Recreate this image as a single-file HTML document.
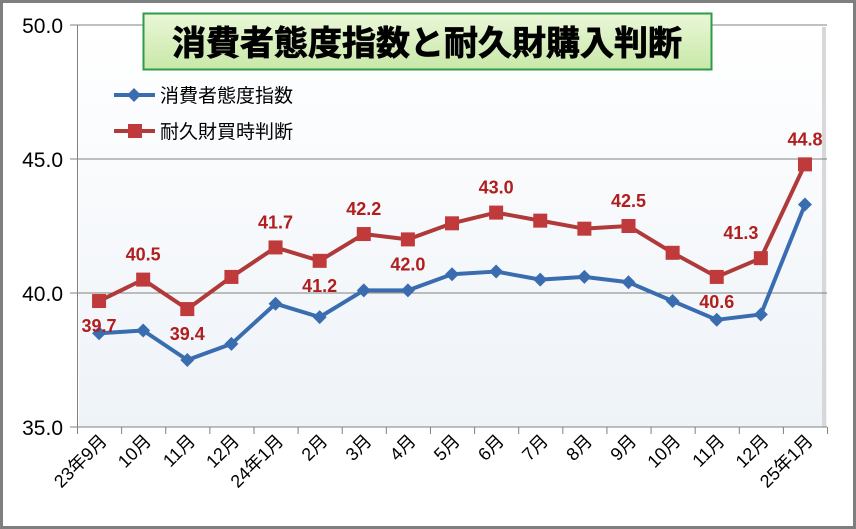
<!DOCTYPE html>
<html><head><meta charset="utf-8"><style>
body{margin:0;background:#fff}
svg{display:block;font-family:"Liberation Sans","Noto Sans CJK JP",sans-serif}
</style></head><body>
<svg width="856" height="529" viewBox="0 0 856 529" xmlns="http://www.w3.org/2000/svg">
<defs>
<linearGradient id="pa" x1="0" y1="0" x2="0" y2="1"><stop offset="0" stop-color="#ffffff"/><stop offset="1" stop-color="#eef3f8"/></linearGradient>
<linearGradient id="tb" x1="0" y1="0" x2="0" y2="1"><stop offset="0" stop-color="#eaf7d8"/><stop offset="1" stop-color="#c9e8a8"/></linearGradient>
</defs>
<rect x="1.5" y="1.5" width="853" height="526" fill="#fff" stroke="#7f7f7f" stroke-width="3"/>
<rect x="79" y="27" width="748" height="400" fill="url(#pa)"/>
<line x1="824" y1="27" x2="824" y2="427" stroke="#d8d8d8" stroke-width="4"/>
<g stroke="#808080" stroke-width="1">
<line x1="70" y1="25" x2="827" y2="25"/>
<line x1="70" y1="159" x2="827" y2="159"/>
<line x1="70" y1="293" x2="827" y2="293"/>
<line x1="70" y1="427" x2="827" y2="427"/>
<line x1="77.5" y1="25" x2="77.5" y2="427"/>
</g>
<g stroke="#808080" stroke-width="1" id="ticks"></g>
<g font-size="21" fill="#000" text-anchor="end">
<text x="63" y="33">50.0</text><text x="63" y="167">45.0</text><text x="63" y="301">40.0</text><text x="63" y="435">35.0</text>
</g>
<rect x="143.5" y="13.5" width="568" height="56" fill="url(#tb)" stroke="#2e9b4a" stroke-width="2"/>
<text x="427" y="55" text-anchor="middle" font-size="34" font-weight="bold" fill="#000" stroke="#000" stroke-width="0.8">消費者態度指数と耐久財購入判断</text>
<line x1="114" y1="95" x2="155" y2="95" stroke="#3a6db0" stroke-width="4"/>
<path d="M134 88 L141 95 L134 102 L127 95Z" fill="#3a6db0"/>
<text x="160" y="102" font-size="19" fill="#000">消費者態度指数</text>
<line x1="114" y1="131" x2="155" y2="131" stroke="#b03a3a" stroke-width="4"/>
<rect x="128" y="124" width="14" height="14" fill="#c0393b"/>
<text x="160" y="138" font-size="19" fill="#000">耐久財買時判断</text>
<g id="plot"></g>
</svg>
<script>
var ns="http://www.w3.org/2000/svg";
function el(t,a,p,txt){var e=document.createElementNS(ns,t);for(var k in a)e.setAttribute(k,a[k]);if(txt)e.textContent=txt;p.appendChild(e);return e;}
var b=[38.5,38.6,37.5,38.1,39.6,39.1,40.1,40.1,40.7,40.8,40.5,40.6,40.4,39.7,39.0,39.2,43.3];
var r=[39.7,40.5,39.4,40.6,41.7,41.2,42.2,42.0,42.6,43.0,42.7,42.4,42.5,41.5,40.6,41.3,44.8];
var labs=["23年9月","10月","11月","12月","24年1月","2月","3月","4月","5月","6月","7月","8月","9月","10月","11月","12月","25年1月"];
var lp={0:1,1:-1,2:1,4:-1,5:1,6:-1,7:1,9:-1,12:-1,14:1,15:-1,16:-1};
var dx={15:-20};
function X(i){return 77+44.12*(i+0.5);}function Y(v){return 293-(v-40)*26.8;}
var g=document.getElementById("plot"),tk=document.getElementById("ticks"),svg=document.querySelector("svg");
for(var i=0;i<=17;i++){var x=77.5+44.12*i;el("line",{x1:x,y1:427,x2:x,y2:434},tk);}
function line(d,c){var s="";d.forEach(function(v,i){s+=(i?"L":"M")+X(i)+" "+Y(v);});el("path",{d:s,fill:"none",stroke:c,"stroke-width":4,"stroke-linejoin":"round"},g);}
line(b,"#3a6db0");line(r,"#b03a3a");
b.forEach(function(v,i){var x=X(i),y=Y(v);el("path",{d:"M"+x+" "+(y-7)+"L"+(x+7)+" "+y+"L"+x+" "+(y+7)+"L"+(x-7)+" "+y+"Z",fill:"#3a6db0"},g);});
r.forEach(function(v,i){var x=X(i),y=Y(v);el("rect",{x:x-7,y:y-7,width:14,height:14,fill:"#c0393b"},g);
if(lp[i]){el("text",{x:x+(dx[i]||0),y:lp[i]>0?y+31:y-19,"text-anchor":"middle","font-size":18,"font-weight":"bold",fill:"#b01e1e"},g,v.toFixed(1));}});
labs.forEach(function(t,i){var x=X(i)+9,y=442;el("text",{x:x,y:y,"text-anchor":"end","font-size":18,fill:"#000",transform:"rotate(-45 "+x+" "+y+")"},svg,t);});
</script>
</body></html>
